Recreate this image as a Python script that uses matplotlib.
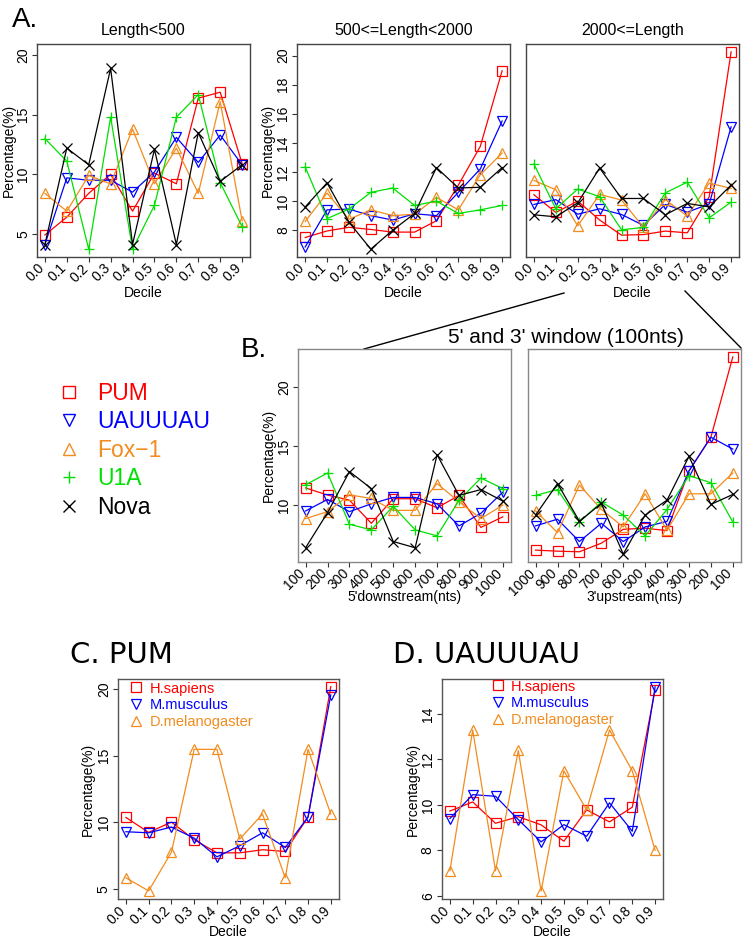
import numpy as np
import matplotlib.pyplot as plt
from matplotlib.lines import Line2D

plt.rcParams['font.family'] = ['Liberation Sans', 'DejaVu Sans']

W, H = 748, 941

deciles = ["0.0", "0.1", "0.2", "0.3", "0.4", "0.5", "0.6", "0.7", "0.8", "0.9"]
down_nts = ["100", "200", "300", "400", "500", "600", "700", "800", "900", "1000"]
up_nts = ["1000", "900", "800", "700", "600", "500", "400", "300", "200", "100"]

motifs = ["PUM", "UAUUUAU", "Fox\u22121", "U1A", "Nova"]
species = ["H.sapiens", "M.musculus", "D.melanogaster"]

# A. Length<500
a1_pum = [4.9, 6.4, 8.4, 10.0, 6.9, 10.1, 9.2, 16.4, 16.9, 10.9]
a1_uau = [4.1, 9.7, 9.5, 9.5, 8.5, 10.2, 13.1, 11.0, 13.3, 10.8]
a1_fox = [8.4, 6.9, 9.9, 9.2, 13.8, 9.2, 12.2, 8.4, 16.1, 6.1]
a1_u1a = [13.0, 11.1, 3.7, 14.8, 3.7, 7.4, 14.8, 16.7, 9.3, 5.6]
a1_nova = [4.1, 12.2, 10.8, 18.9, 4.1, 12.1, 4.1, 13.5, 9.4, 10.8]

# A. 500<=Length<2000
a2_pum = [7.5, 7.95, 8.2, 8.05, 7.87, 7.87, 8.65, 11.1, 13.75, 18.95]
a2_uau = [6.85, 9.4, 9.45, 9.0, 8.7, 9.13, 9.0, 10.6, 12.2, 15.5]
a2_fox = [8.6, 10.55, 8.75, 9.4, 9.0, 9.1, 10.25, 9.4, 11.8, 13.3]
a2_u1a = [12.35, 8.8, 9.45, 10.6, 10.9, 9.7, 10.0, 9.15, 9.4, 9.7]
a2_nova = [9.6, 11.25, 8.55, 6.7, 8.0, 9.15, 12.3, 10.9, 10.95, 12.3]

# A. 2000<=Length
a3_pum = [10.44, 9.22, 10.0, 8.7, 7.66, 7.7, 7.94, 7.82, 10.3, 20.25]
a3_uau = [9.77, 10.1, 9.1, 9.47, 9.08, 8.33, 9.77, 9.24, 9.8, 15.1]
a3_fox = [11.42, 10.78, 8.3, 10.46, 10.07, 8.19, 10.1, 8.97, 11.24, 10.87]
a3_u1a = [12.55, 9.47, 10.83, 10.3, 8.03, 8.19, 10.57, 11.3, 8.85, 9.93]
a3_nova = [9.06, 8.92, 9.88, 12.27, 10.18, 10.18, 9.06, 9.84, 9.6, 11.1]

# B. 5' downstream window
b1_pum = [11.46, 10.85, 10.42, 8.45, 10.54, 10.54, 9.77, 10.82, 8.1, 9.0]
b1_uau = [9.5, 10.48, 9.44, 10.11, 10.65, 10.65, 10.11, 8.23, 9.3, 11.1]
b1_fox = [8.85, 9.44, 10.87, 10.56, 9.55, 9.55, 11.83, 10.28, 8.85, 10.0]
b1_u1a = [11.72, 12.73, 8.37, 7.89, 9.9, 7.89, 7.38, 10.4, 12.3, 11.4]
b1_nova = [6.37, 9.35, 12.85, 11.4, 6.9, 6.37, 14.28, 10.82, 11.32, 10.34]

# B. 3' upstream window
b2_pum = [6.17, 6.08, 6.03, 6.76, 7.94, 8.03, 7.83, 12.9, 15.77, 22.6]
b2_uau = [8.23, 8.8, 6.9, 8.45, 6.9, 8.14, 8.62, 12.9, 15.77, 14.76]
b2_fox = [9.5, 7.66, 11.7, 9.63, 8.14, 10.96, 7.86, 10.96, 10.96, 12.73]
b2_u1a = [10.82, 11.32, 8.56, 10.25, 9.15, 7.38, 9.63, 12.5, 11.9, 8.56]
b2_nova = [9.15, 11.83, 8.62, 10.14, 5.83, 9.15, 10.42, 14.14, 10.06, 10.9]

# C. PUM across species
c_hs = [10.37, 9.25, 10.02, 8.7, 7.72, 7.72, 7.95, 7.82, 10.4, 20.17]
c_mm = [9.3, 9.22, 9.65, 8.82, 7.42, 8.25, 9.22, 8.12, 10.4, 19.55]
c_dm = [5.85, 4.87, 7.77, 15.47, 15.47, 8.75, 10.62, 5.85, 15.47, 10.62]

# D. UAUUUAU across species
d_hs = [9.73, 10.13, 9.19, 9.48, 9.12, 8.4, 9.78, 9.25, 9.9, 15.05]
d_mm = [9.4, 10.45, 10.38, 9.35, 8.37, 9.13, 8.62, 10.09, 8.84, 15.2]
d_dm = [7.1, 13.3, 7.1, 12.4, 6.2, 11.5, 9.78, 13.3, 11.5, 8.0]

colors = ["#FF0000", "#0000FF", "#F28C1E", "#00E000", "#000000"]
markers = ["s", "v", "^", "+", "x"]


def fx(x):
    return x / W


def fy(y):
    return 1 - y / H


def frame(left, top, right, bottom):
    return fig.add_axes([fx(left), fy(bottom), (right - left) / W, (bottom - top) / H])


def draw(ax, series, cols, mks, ms=7.5):
    x = np.arange(10)
    for vals, c, m in zip(series, cols, mks):
        ax.plot(x, vals, color=c, lw=0.9, marker=m, ms=ms, mfc="none", mec=c, mew=0.9)


def style(ax, xlabels, ylim, yticks, edge, xlab=None, ylab=None, xlab_y=-0.165, ylab_x=-0.135):
    ax.set_xlim(-0.36, 9.36)
    ax.set_ylim(ylim)
    for s in ax.spines.values():
        s.set_color(edge)
        s.set_linewidth(1.0)
    ax.set_xticks(range(10))
    ax.set_xticklabels(xlabels, rotation=45, ha="right", va="baseline",
                       rotation_mode="anchor", fontsize=10)
    ax.tick_params(axis="x", length=3.5, width=0.8, pad=5, color="#333333")
    if yticks is None:
        ax.set_yticks([])
    else:
        ax.set_yticks(yticks)
        ax.set_yticklabels([str(t) for t in yticks], fontsize=10)
        for lab in ax.get_yticklabels():
            lab.set_rotation(90)
            lab.set_va("center")
        ax.tick_params(axis="y", length=3.5, width=0.8, pad=1.5, color="#333333")
    if xlab:
        ax.set_xlabel(xlab, fontsize=10, va="center")
        ax.xaxis.set_label_coords(0.5, xlab_y)
    if ylab:
        ax.set_ylabel(ylab, fontsize=10, va="center")
        ax.yaxis.set_label_coords(ylab_x, 0.5)


fig = plt.figure(figsize=(W / 100, H / 100), dpi=100)

# overlay for connector lines
ov = fig.add_axes([0, 0, 1, 1])
ov.set_xlim(0, W)
ov.set_ylim(H, 0)
ov.axis("off")
ov.plot([364, 564], [349, 293], color="black", lw=1.0)
ov.plot([685, 741], [291, 348], color="black", lw=1.0)

# panel A
a1 = frame(37, 44, 250, 257)
draw(a1, [a1_pum, a1_uau, a1_fox, a1_u1a, a1_nova], colors, markers)
style(a1, deciles, (3.05, 20.95), [5, 10, 15, 20], "#444444", "Decile", "Percentage(%)",
      xlab_y=-0.169, ylab_x=-0.13)
a1.set_title("Length<500", fontsize=11.5, pad=6.5)

a2 = frame(297.3, 44, 510, 257)
draw(a2, [a2_pum, a2_uau, a2_fox, a2_u1a, a2_nova], colors, markers)
style(a2, deciles, (6.16, 20.79), [8, 10, 12, 14, 16, 18, 20], "#444444", "Decile",
      "Percentage(%)", xlab_y=-0.169, ylab_x=-0.138)
a2.set_title("500<=Length<2000", fontsize=11.5, pad=6.5)

a3 = frame(526, 44, 739, 257)
draw(a3, [a3_pum, a3_uau, a3_fox, a3_u1a, a3_nova], colors, markers)
style(a3, deciles, (6.16, 20.79), None, "#444444", "Decile", xlab_y=-0.169)
a3.set_title("2000<=Length", fontsize=11.5, pad=6.5)

# panel B
b1 = frame(297.7, 349, 510.7, 562)
draw(b1, [b1_pum, b1_uau, b1_fox, b1_u1a, b1_nova], colors, markers)
style(b1, down_nts, (5.16, 23.27), [10, 15, 20], "#888888", "5'downstream(nts)",
      "Percentage(%)", xlab_y=-0.164, ylab_x=-0.135)

b2 = frame(527.7, 349, 740.7, 562)
draw(b2, [b2_pum, b2_uau, b2_fox, b2_u1a, b2_nova], colors, markers)
style(b2, up_nts, (5.16, 23.27), None, "#888888", "3'upstream(nts)", xlab_y=-0.164)

# panel C and D
c = frame(117.7, 678.7, 339, 899.3)
draw(c, [c_hs, c_mm, c_dm], colors[:3], markers[:3])
style(c, deciles, (4.24, 20.76), [5, 10, 15, 20], "#555555", "Decile", "Percentage(%)",
      xlab_y=-0.147, ylab_x=-0.134)

d = frame(441.7, 678.7, 663.3, 899.3)
draw(d, [d_hs, d_mm, d_dm], colors[:3], markers[:3])
style(d, deciles, (5.84, 15.56), [6, 8, 10, 12, 14], "#555555", "Decile", "Percentage(%)",
      xlab_y=-0.147, ylab_x=-0.13)


def species_legend(ax, x0, y0, pad):
    hs = [Line2D([], [], ls="none", marker=m, ms=6.5, mfc="none", mec=col, mew=0.9)
          for m, col in zip(markers[:3], colors[:3])]
    ax.legend(hs, species, loc="upper left", bbox_to_anchor=(fx(x0), fy(y0)),
              bbox_transform=fig.transFigure, frameon=False, fontsize=10.5,
              handlelength=0.75, handletextpad=pad, labelspacing=0.2,
              borderpad=0, borderaxespad=0, labelcolor=colors[:3])


species_legend(c, 130.5, 681.5, 0.6)
species_legend(d, 493, 679.5, 0.5)

# motif legend
mh = [Line2D([], [], ls="none", marker=m, ms=9, mfc="none", mec=col, mew=1.0)
      for m, col in zip(markers, colors)]
fig.legend(mh, motifs, loc="upper left", bbox_to_anchor=(fx(57.5), fy(382)),
           frameon=False, fontsize=16.5, handlelength=1.0, handletextpad=0.72,
           labelspacing=0.24, borderpad=0, borderaxespad=0, labelcolor=colors)

# panel letters and headings
fig.text(fx(11.7), fy(27), "A.", fontsize=20, va="baseline", ha="left")
fig.text(fx(241), fy(356.7), "B.", fontsize=20, va="baseline", ha="left")
fig.text(fx(566), fy(343.3), "5' and 3' window (100nts)", fontsize=15,
         va="baseline", ha="center")
fig.text(fx(70), fy(663), "C. PUM", fontsize=21, va="baseline", ha="left",
         family="DejaVu Sans")
fig.text(fx(393), fy(663), "D. UAUUUAU", fontsize=21, va="baseline", ha="left",
         family="DejaVu Sans")

fig.savefig("out.png", dpi=100)
